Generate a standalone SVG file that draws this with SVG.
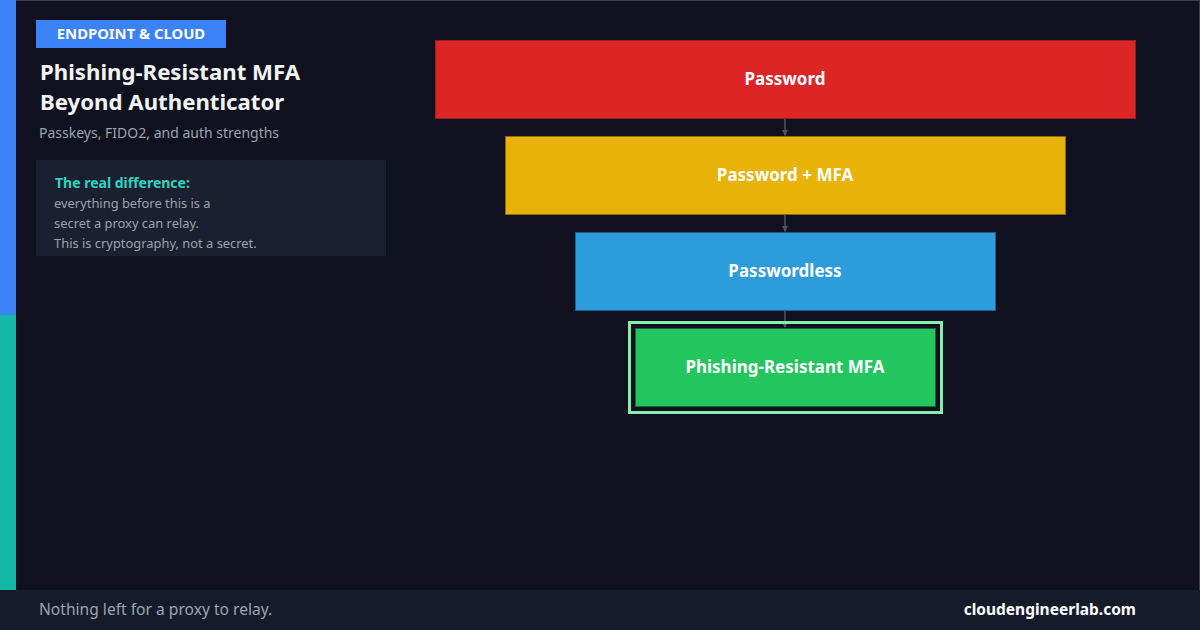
<svg xmlns="http://www.w3.org/2000/svg" width="1200" height="630" viewBox="0 0 1200 630">
<defs>
<style>
text{font-family:"Noto Sans","Open Sans","DejaVu Sans",sans-serif}
.lbl{font-size:17px;font-weight:700;fill:#ffffff;text-anchor:middle}
.body{font-size:12.9px;fill:#9ca3af}
.conn{stroke:#4b5563;stroke-width:1.5;fill:none}
</style>
<marker id="ah" markerWidth="6" markerHeight="6" refX="5" refY="3" orient="auto" markerUnits="userSpaceOnUse">
<path d="M0,0 L6,3 L0,6 z" fill="#4b5563"/>
</marker>
</defs>
<rect x="0" y="0" width="1200" height="630" fill="#0f121e"/>
<rect x="0.5" y="0.5" width="1199" height="629" fill="none" stroke="#3a3f4b" stroke-width="1"/>
<rect x="0" y="0" width="16" height="315" fill="#3b82f6"/>
<rect x="0" y="315" width="16" height="275" fill="#14b8a6"/>
<rect x="0" y="590" width="1200" height="40" fill="#161b2b"/>

<g id="header">
<rect x="36" y="20" width="190" height="28" fill="#3b82f6"/>
<text x="131" y="39" font-size="14.8" font-weight="700" fill="#ffffff" text-anchor="middle">ENDPOINT &amp; CLOUD</text>
<text x="40" y="80" font-size="22.2" font-weight="700" fill="#f3f4f6">Phishing-Resistant MFA</text>
<text x="40" y="110" font-size="22.2" font-weight="700" fill="#f3f4f6">Beyond Authenticator</text>
<text x="39" y="138" font-size="14" fill="#9ca3af">Passkeys, FIDO2, and auth strengths</text>
</g>

<g id="note">
<rect x="36" y="160" width="350" height="96" fill="#1a2030"/>
<text x="55" y="188" font-size="14" font-weight="700" fill="#2dd4bf">The real difference:</text>
<text x="54" y="208" class="body">everything before this is a</text>
<text x="54" y="228" class="body">secret a proxy can relay.</text>
<text x="54" y="248" class="body">This is cryptography, not a secret.</text>
</g>

<g id="connectors">
<line x1="785" y1="118" x2="785" y2="135" class="conn" marker-end="url(#ah)"/>
<line x1="785" y1="214" x2="785" y2="231" class="conn" marker-end="url(#ah)"/>
<line x1="785" y1="310" x2="785" y2="327" class="conn" marker-end="url(#ah)"/>
</g>

<g id="node-password">
<rect x="435.5" y="40.5" width="700" height="78" fill="#dc2626" stroke="#9b1c1c" stroke-width="1"/>
<text x="785" y="85" class="lbl">Password</text>
</g>
<g id="node-password-mfa">
<rect x="505.5" y="136.5" width="560" height="78" fill="#e8b209" stroke="#8a6a0a" stroke-width="1"/>
<text x="785" y="181" class="lbl">Password + MFA</text>
</g>
<g id="node-passwordless">
<rect x="575.5" y="232.5" width="420" height="78" fill="#2d9cdb" stroke="#1f5f8f" stroke-width="1"/>
<text x="785" y="277" class="lbl">Passwordless</text>
</g>
<g id="node-phishing-resistant">
<rect x="629.5" y="322.5" width="312" height="90" fill="none" stroke="#86efac" stroke-width="3"/>
<rect x="635.5" y="328.5" width="300" height="78" fill="#22c55e" stroke="#166534" stroke-width="1"/>
<text x="785" y="373" class="lbl">Phishing-Resistant MFA</text>
</g>

<g id="footer">
<text x="39" y="615" font-size="15.6" fill="#9ca3af">Nothing left for a proxy to relay.</text>
<text x="1136" y="615" font-size="15.5" font-weight="700" fill="#ffffff" text-anchor="end">cloudengineerlab.com</text>
</g>
</svg>
